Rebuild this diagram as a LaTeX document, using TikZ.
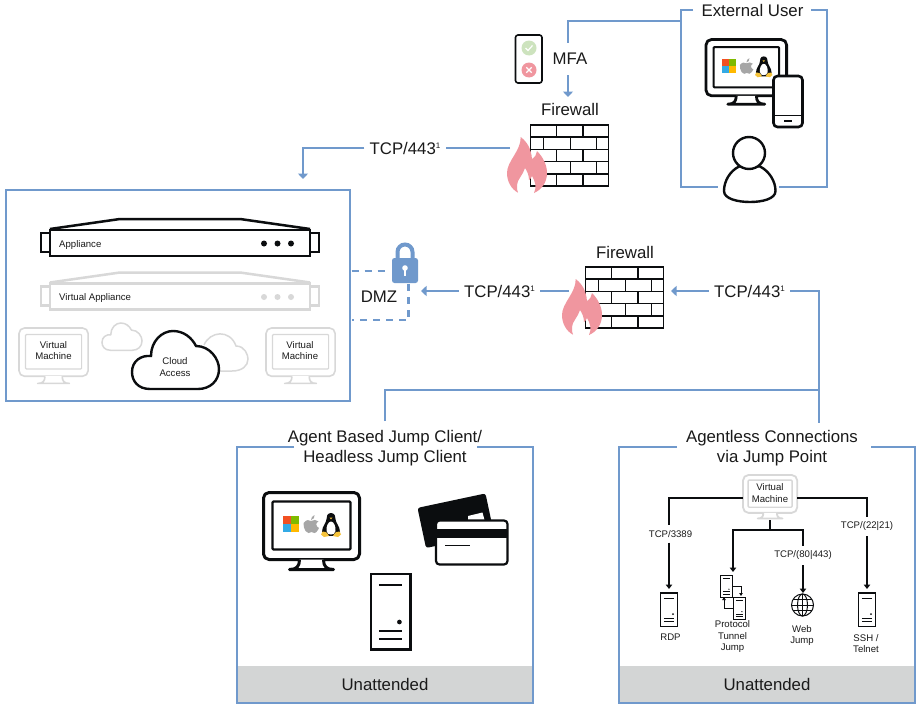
\documentclass[tikz,border=0pt]{standalone}
\usepackage{fontspec}
\setmainfont{Liberation Sans}
\usetikzlibrary{arrows.meta}
\definecolor{bl}{HTML}{7099CC}
\definecolor{pk}{HTML}{F0969F}
\definecolor{gi}{HTML}{D8D8D8}
\definecolor{band}{HTML}{D3D5D5}
\definecolor{ink}{HTML}{0B0D0F}
\definecolor{txt}{HTML}{1A1A1A}
\definecolor{msr}{HTML}{F25022}
\definecolor{msg}{HTML}{7FBA00}
\definecolor{msb}{HTML}{33AAE5}
\definecolor{msy}{HTML}{FFB900}
\definecolor{okg}{HTML}{CDE3BE}
\definecolor{tuxy}{HTML}{F5C33B}
\definecolor{appl}{HTML}{A6A6A6}
\tikzset{
 wire/.style={draw=bl,line width=2.95pt},
 wirea/.style={wire,-{Triangle[width=10pt,length=5.5pt]}},
 dashw/.style={draw=bl,line width=2.95pt,dash pattern=on 7pt off 6pt},
 thinw/.style={draw=ink,line width=1.5pt},
 thinwa/.style={thinw,-{Triangle[width=6.5pt,length=4.5pt]}},
 lbl/.style={inner sep=0pt,text=txt,font=\fontsize{16.8}{20}\selectfont,align=center},
 smlbl/.style={inner sep=0pt,text=txt,font=\fontsize{9.6}{11.5}\selectfont,align=center},
 gaplbl/.style={lbl,inner sep=5pt},
 gapsm/.style={smlbl,inner ysep=5pt,inner xsep=2pt},
}
\newcommand{\supone}{\raisebox{5.5pt}{\fontsize{8}{8}\selectfont 1}}
% firewall at top-left x,y
\newcommand{\firewallicon}[2]{%
\begin{scope}[shift={(#1,#2)},line width=1.5pt,draw=ink]
\draw (0,0) rectangle (78,61);
\foreach \yy in {12.2,24.4,36.6,48.8}{\draw (0,\yy)--(78,\yy);}
\foreach \yy in {0,24.4,48.8}{\draw (26,\yy)--(26,\yy+12.2) (52.5,\yy)--(52.5,\yy+12.2);}
\foreach \yy in {12.2,36.6}{\draw (13,\yy)--(13,\yy+12.2) (40,\yy)--(40,\yy+12.2) (66,\yy)--(66,\yy+12.2);}
\fill[pk,shift={(-23.5,12)}] (11,55.7) .. controls (4,52) and (0,44) .. (0,36) .. controls (0,24) and (14,14) .. (13.7,0) .. controls (20,5) and (24,11) .. (25,22) .. controls (28,20) and (30,17) .. (30,14) .. controls (36,20) and (40,28) .. (40,36) .. controls (40,46) and (34,53) .. (27,56) .. controls (30,50) and (28,44) .. (25,39) .. controls (24,41) and (23.5,42) .. (22,43) .. controls (22,38) and (20,34) .. (18,31) .. controls (16,38) and (10,43) .. (10,48) .. controls (10,51) and (10,54) .. (11,55.7) -- cycle;
\end{scope}}
% unit monitor 96 x 79
\newcommand{\monitoricon}[5]{% x,y,scale,lw,colour
\begin{scope}[shift={(#1,#2)},scale=#3,line width=#4,draw=#5,line join=round]
\draw[fill=white,rounded corners=5.5pt] (0,0) rectangle (96,67);
\draw[rounded corners=1pt,line width=0.75*#4] (9,9) rectangle (87,57);
\draw[fill=white] (36,67) .. controls (36,74) and (33,77) .. (26,77) -- (70,77) .. controls (63,77) and (60,74) .. (60,67);
\end{scope}}
% logos; local size 57 x 20
\newcommand{\logos}[3]{%
\begin{scope}[shift={(#1,#2)},scale=#3]
\fill[msr] (0,0) rectangle (7.7,7.7);
\fill[msg] (8.3,0) rectangle (16,7.7);
\fill[msb] (0,8.3) rectangle (7.7,16);
\fill[msy] (8.3,8.3) rectangle (16,16);
\begin{scope}[xshift=0.5pt]
\fill[appl] (27.5,5) .. controls (25,3.5) and (23,4) .. (22,5) .. controls (18,5) and (20.5,17) .. (25,17) .. controls (26,17) and (27,16) .. (28,16) .. controls (29,16) and (30,17) .. (31,17) .. controls (33,17) and (35,13) .. (35.5,12) .. controls (32,10.5) and (32,6.5) .. (35,5.5) .. controls (33,3.5) and (30,3.5) .. (27.5,5) -- cycle;
\fill[appl] (27.5,4) .. controls (27.5,1.5) and (29,0) .. (31,-1) .. controls (31.5,1.5) and (30,3.5) .. (27.5,4) -- cycle;
\end{scope}
\fill[ink] (48,-3) .. controls (44,-3) and (43.5,1) .. (43.5,3) .. controls (43.5,7) and (39,10) .. (39,16) .. controls (39,19) and (42,20) .. (48,20) .. controls (54,20) and (57,19) .. (57,16) .. controls (57,10) and (52.5,7) .. (52.5,3) .. controls (52.5,1) and (52,-3) .. (48,-3) -- cycle;
\fill[white] (48,5.5) .. controls (45,5.5) and (43,11) .. (43.5,15) .. controls (44,18) and (46,18.5) .. (48,18.5) .. controls (50,18.5) and (52,18) .. (52.5,15) .. controls (53,11) and (51,5.5) .. (48,5.5) -- cycle;
\fill[tuxy] (46.5,1.5) -- (49.5,1.5) -- (48,3.4) -- cycle;
\fill[tuxy] (39.5,15.5) .. controls (42,14.5) and (44,16.5) .. (46,20) -- (41,21) -- (38,18.5) -- cycle;
\fill[tuxy] (56.5,15.5) .. controls (54,14.5) and (52,16.5) .. (50,20) -- (55,21) -- (58,18.5) -- cycle;
\end{scope}}
% unit server 40 x 77
\newcommand{\servericon}[4]{% x,y,scale,lw
\begin{scope}[shift={(#1,#2)},scale=#3,line width=#4,draw=ink]
\draw (0,0) rectangle (40,77);
\draw[line width=0.7*#4] (8,11.5)--(32,11.5) (8,58)--(32,58) (8,66)--(32,66);
\fill[ink] (29,49) circle (2.4);
\end{scope}}
% appliance: y = top of the trapezoid
\newcommand{\applianceicon}[2]{% y, colour
\begin{scope}[shift={(0,#1)},line width=2.5pt,draw=#2,line join=miter]
\draw (41,14) rectangle (50,33) (310,14) rectangle (319,33);
\draw[fill=white] (50,11) rectangle (310,37);
\draw (50,10) -- (120,0) -- (240,0) -- (310,10);
\fill[#2] (264,24.5) circle (3) (277.5,24.5) circle (3) (291,24.5) circle (3);
\end{scope}}
\newcommand{\cloudpath}{(18,58) .. controls (6,58) and (0,50) .. (0,41) .. controls (0,30) and (9,24) .. (19,25) .. controls (19,10) and (30,0) .. (41,0) .. controls (52,0) and (60,7) .. (64,15) .. controls (78,15) and (87,28) .. (87,38) .. controls (87,50) and (78,58) .. (66,58) -- cycle}
\begin{document}
\begin{tikzpicture}[x=1pt,y=-1pt]
\useasboundingbox (0,0) rectangle (919,704);
\fill[white] (0,0) rectangle (919,704);

% ---- boxes
\draw[wire] (693,10) -- (681,10) -- (681,187) -- (718,187);
\draw[wire] (779,187) -- (827,187) -- (827,10) -- (811,10);
\node[lbl] (extuser) at (752.5,10) {External User};
\draw[wire] (6,190) rectangle (350,401);
\draw[wire] (294,447) -- (237,447) -- (237,703) -- (533,703) -- (533,447) -- (477,447);
\draw[wire] (677,447) -- (619,447) -- (619,703) -- (915,703) -- (915,447) -- (871,447);
\fill[band] (238.3,666) rectangle (531.7,701.7);
\fill[band] (620.3,666) rectangle (913.7,701.7);
\node[lbl] (agentlbl) at (385,448.5) {Agent Based Jump Client/\\[0pt]Headless Jump Client};
\node[lbl] (agentless) at (772,448.5) {Agentless Connections\\[0pt]via Jump Point};
\node[lbl] (un1) at (385,684) {Unattended};
\node[lbl] (un2) at (767,684) {Unattended};

% ---- MFA device
\draw[ink,line width=1.6pt,rounded corners=2.5pt] (515.5,35) rectangle (542,83);
\fill[okg] (529,48) circle (7.5);
\draw[white,line width=1.2pt] (525.5,48) -- (528,50.5) -- (532.5,45.5);
\fill[pk] (529,70) circle (7.5);
\draw[white,line width=1.2pt] (526.3,67.3) -- (531.7,72.7) (526.3,72.7) -- (531.7,67.3);
\node[lbl,inner sep=5pt] (mfa) at (570,59) {MFA};
\node[lbl] (fw1lbl) at (570,109) {Firewall};
\node[lbl] (fw2lbl) at (625,252) {Firewall};

% ---- firewalls
\firewallicon{530.5}{125}
\firewallicon{585.5}{267}
\coordinate (fw1w) at (510,148);
\coordinate (fw2w) at (569,291);
\coordinate (fw2e) at (671,291);
\coordinate (extw) at (681,21);
\coordinate (fw1n) at (568,97);
\coordinate (mfaup) at (568,43);
\coordinate (mfadn) at (568,75);
\coordinate (mainn) at (303,179);
\coordinate (dmze) at (421,291);
\coordinate (bend) at (819,291);
\coordinate (joinb) at (819,423);
\coordinate (agentn) at (385,421);
\coordinate (joint) at (819,390);

% ---- connectors
\node[gaplbl] (tcpa) at (405,148) {TCP/443\supone};
\node[gaplbl] (tcpb) at (499.5,291) {TCP/443\supone};
\node[gaplbl] (tcpc) at (749.5,291) {TCP/443\supone};
\draw[wire] (extw) -| (mfaup);
\draw[wirea] (mfadn) -- (fw1n);
\draw[wire] (fw1w) -- (tcpa.east);
\draw[wirea] (tcpa.west) -| (mainn);
\draw[wire] (fw2w) -- (tcpb.east);
\draw[wirea] (tcpb.west) -- (dmze);
\draw[wirea] (tcpc.west) -- (fw2e);
\draw[wire] (tcpc.east) -- (bend) -- (joinb);
\draw[wire] (agentn) |- (joint);

% ---- external user
\monitoricon{706}{39.5}{0.84}{2.8pt}{ink}
\logos{722}{59}{0.87}
\draw[ink,fill=white,line width=2.6pt,rounded corners=4pt] (773.5,76) rectangle (802.5,127);
\draw[ink,line width=1.4pt] (773.5,115.5) -- (802.5,115.5);
\draw[ink,line width=1.4pt] (784,121) -- (792,121);
\draw[ink,fill=white,line width=2.4pt] (739,166.5) .. controls (730,171) and (724,181) .. (724,191) .. controls (724,199) and (738,202) .. (750,202) .. controls (762,202) and (775.5,199) .. (775.5,191) .. controls (775.5,181) and (769,171) .. (760,166.5) -- cycle;
\draw[ink,fill=white,line width=2.4pt] (749,153) circle (16);

% ---- main box contents
\applianceicon{219}{ink}
\applianceicon{272.5}{gi}
\node[smlbl,anchor=west] (app) at (59,245.5) {Appliance};
\node[smlbl,anchor=west] (vapp) at (59,298) {Virtual Appliance};
\monitoricon{19}{328}{0.72}{1.6pt}{gi}
\monitoricon{266}{328}{0.72}{1.6pt}{gi}
\node[smlbl] (vm1) at (53.5,350.5) {Virtual\\Machine};
\node[smlbl] (vm2) at (300,350.5) {Virtual\\Machine};
\draw[gi,line width=1.5pt,shift={(102,323)},xscale=0.46,yscale=0.47] \cloudpath;
\draw[gi,line width=1.5pt] (204,345) .. controls (210,331) and (230,329) .. (236,346) .. controls (245,346) and (248,355) .. (248,359) .. controls (248,366) and (242,371) .. (232,371) -- (210,371);
\draw[ink,fill=white,line width=2.4pt,shift={(132,331)}] \cloudpath;
\node[smlbl] (cloud) at (175,367) {Cloud\\Access};

% ---- DMZ
\coordinate (dmza) at (351.5,271);
\coordinate (dmzb) at (388,271);
\coordinate (dmzc) at (408.5,284);
\coordinate (dmzd) at (351.5,320);
\draw[dashw] (dmza) -- (dmzb);
\draw[dashw] (dmzc) |- (dmzd);
\fill[bl,rounded corners=2.5pt] (392,258) rectangle (418,283);
\draw[bl,line width=4pt] (397.5,259) -- (397.5,252) arc[start angle=180,end angle=360,radius=7.5] -- (412.5,259);
\fill[white] (405,268) circle (2.8);
\fill[white] (403.8,268) rectangle (406.2,276);
\node[lbl] (dmzlbl) at (379,297) {DMZ};

% ---- agent box contents
\monitoricon{263.5}{492.5}{1}{3pt}{ink}
\logos{283}{516}{1}
\servericon{371}{574}{0.98}{2.8pt}
\fill[ink,rounded corners=2.5pt,rotate around={12:(417,508)}] (417.5,508) rectangle (487,549);
\fill[white] (468,516) -- (482.5,512.5) -- (484.5,520) -- (468,520) -- cycle;
\draw[ink,fill=white,line width=2.2pt,rounded corners=3.5pt] (436,520.5) rectangle (507.5,564.5);
\fill[ink] (436,529) rectangle (507.5,538);
\draw[ink,line width=1.3pt] (445,545.5) -- (470,545.5);

% ---- agentless contents
\monitoricon{743}{475}{0.565}{1.8pt}{gi}
\node[smlbl] (vm3) at (770,493) {Virtual\\Machine};
\coordinate (vme) at (797,498);
\coordinate (vmw) at (743,498);
\coordinate (vms) at (770,520);
\coordinate (tee) at (770,530);
\coordinate (rdpn) at (669,589);
\coordinate (sshn) at (867,589);
\coordinate (ptjn) at (733,572);
\coordinate (webn) at (803,593);
\node[gapsm] (t3389) at (670.5,534) {TCP/3389};
\node[gapsm] (t2221) at (867,526.5) {TCP/(22|21)};
\node[gapsm] (t80) at (803,555.5) {TCP/(80|443)};
\draw[thinw] (vmw) -| (rdpn |- t3389.north);
\draw[thinwa] (t3389.south -| rdpn) -- (rdpn);
\draw[thinw] (vme) -| (t2221.north);
\draw[thinwa] (t2221.south) -- (sshn);
\draw[thinw] (vms) -- (tee);
\draw[thinwa] (tee) -| (ptjn);
\draw[thinw] (tee) -| (t80.north);
\draw[thinwa] (t80.south) -- (webn);
\servericon{660.5}{593}{0.43}{1.1pt}
\servericon{858.5}{593}{0.43}{1.1pt}
\servericon{720.5}{575}{0.29}{1pt}
\servericon{733.5}{597.5}{0.29}{1pt}
\coordinate (sa) at (733,586);
\coordinate (sb) at (741,596);
\coordinate (sc) at (733,608);
\coordinate (sd) at (724,597);
\draw[ink,line width=0.9pt,-{Triangle[width=3.5pt,length=3pt]}] (sa) -| (sb);
\draw[ink,line width=0.9pt,-{Triangle[width=3.5pt,length=3pt]}] (sc) -| (sd);
\begin{scope}[ink,line width=1pt]
\draw (802.5,605) circle (11);
\draw (802.5,605) ellipse (5 and 11);
\draw (802.5,594) -- (802.5,616) (791.5,605) -- (813.5,605);
\draw (793,599.5) -- (812,599.5) (793,610.5) -- (812,610.5);
\end{scope}
\node[smlbl] (rdp) at (670.5,637.5) {RDP};
\node[smlbl] (ssh) at (866,643.5) {SSH /\\Telnet};
\node[smlbl] (ptj) at (732.5,637) {Protocol\\Tunnel\\Jump};
\node[smlbl] (web) at (802,635.5) {Web\\Jump};
\end{tikzpicture}
\end{document}
